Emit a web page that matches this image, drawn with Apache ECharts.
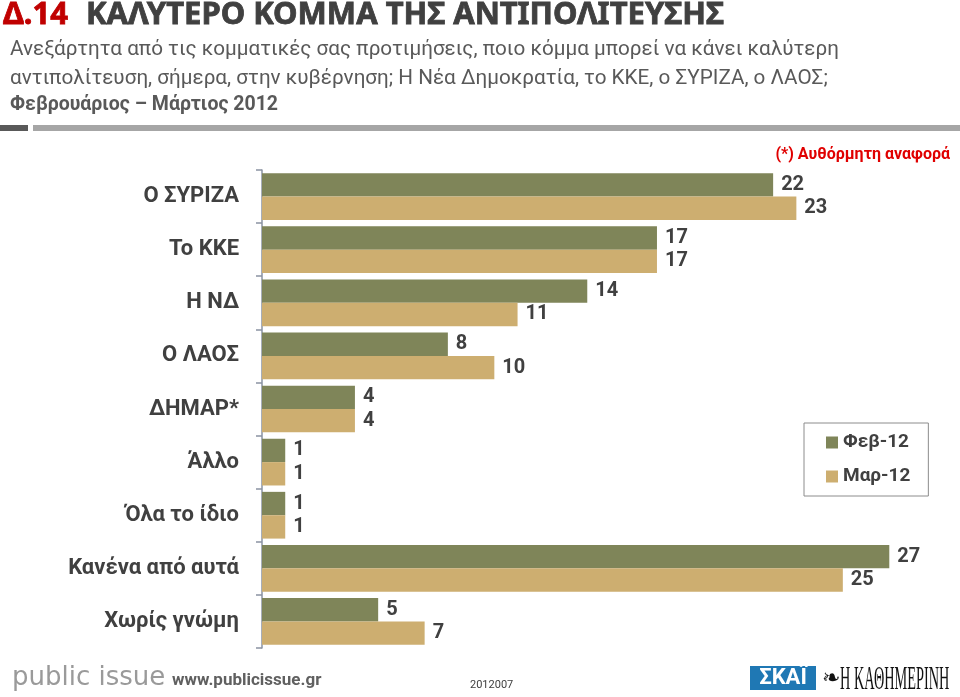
<!DOCTYPE html>
<html><head><meta charset="utf-8">
<script src="https://cdn.jsdelivr.net/npm/echarts@6/dist/echarts.min.js"></script>
<style>html,body{margin:0;padding:0;background:#fff}#c{width:960px;height:697px}</style>
</head><body><div id="c"></div>
<script>
const categories = ['Ο ΣΥΡΙΖΑ','Το ΚΚΕ','Η ΝΔ','Ο ΛΑΟΣ','ΔΗΜΑΡ*','Άλλο','Όλα το ίδιο','Κανένα από αυτά','Χωρίς γνώμη'];
const seriesNames = ['Φεβ-12','Μαρ-12'];
const feb = [22,17,14,8,4,1,1,27,5];
const mar = [23,17,11,10,4,1,1,25,7];

const FONT = 'Roboto';
const TFONT = '"Noto Sans"';
const labelStyle = {show:true, position:'right', distance:8, color:'#404040', fontSize:20, fontWeight:'bold', fontFamily:FONT};
const chart = echarts.init(document.getElementById('c'), null, {renderer:'canvas'});
chart.setOption({
  animation:false,
  backgroundColor:'#fff',
  color:['#7F8559','#CDAE70'],
  grid:{left:262, top:170, right:1, bottom:49},
  xAxis:{type:'value', min:0, max:30, show:false},
  yAxis:{type:'category', data:categories, inverse:true,
    axisLine:{show:true, lineStyle:{color:'#8a93a3', width:1.5}},
    axisTick:{show:true, length:6, lineStyle:{color:'#8a93a3', width:1.5}},
    axisLabel:{margin:23, color:'#404040', fontSize:22, fontWeight:'bold', fontFamily:FONT}},
  legend:{orient:'vertical', left:804, top:423, padding:[10,18,10,22], itemGap:15,
    itemWidth:12, itemHeight:12, borderColor:'#8c8c8c', borderWidth:1, icon:'rect',
    textStyle:{color:'#404040', fontSize:19, fontWeight:'bold', fontFamily:FONT}},
  series:[
    {name:seriesNames[0], type:'bar', data:feb, barGap:'0%', barCategoryGap:'12%', label:labelStyle},
    {name:seriesNames[1], type:'bar', data:mar, barGap:'0%', barCategoryGap:'12%', label:labelStyle}
  ],
  graphic:[
    {type:'text', x:3, y:15, style:{text:'Δ.14', fill:'#C00000', stroke:'#C00000', lineWidth:0.8, fontSize:31, fontWeight:'bold', fontFamily:TFONT, verticalAlign:'middle'}},
    {type:'text', x:86, y:15, style:{text:'ΚΑΛΥΤΕΡΟ ΚΟΜΜΑ ΤΗΣ ΑΝΤΙΠΟΛΙΤΕΥΣΗΣ', fill:'#404040', stroke:'#404040', lineWidth:0.8, fontSize:31, fontWeight:'bold', fontFamily:TFONT, verticalAlign:'middle'}},
    {type:'text', x:10, y:50, style:{text:'Ανεξάρτητα από τις κομματικές σας προτιμήσεις, ποιο κόμμα μπορεί να κάνει καλύτερη', fill:'#595959', font:'20.7px '+FONT, verticalAlign:'middle'}},
    {type:'text', x:10, y:79, style:{text:'αντιπολίτευση, σήμερα, στην κυβέρνηση; Η Νέα Δημοκρατία, το ΚΚΕ, ο ΣΥΡΙΖΑ, ο ΛΑΟΣ;', fill:'#595959', font:'20.7px '+FONT, verticalAlign:'middle'}},
    {type:'text', x:10, y:105, style:{text:'Φεβρουάριος – Μάρτιος 2012', fill:'#595959', font:'bold 19.5px '+FONT, verticalAlign:'middle'}},
    {type:'rect', shape:{x:0, y:125, width:28, height:6}, style:{fill:'#595959'}},
    {type:'rect', shape:{x:33, y:125, width:927, height:6}, style:{fill:'#a6a6a6'}},
    {type:'text', x:950, y:155, style:{text:'(*) Αυθόρμητη αναφορά', fill:'#E00000', font:'bold 16px '+FONT, align:'right', verticalAlign:'middle'}},
    {type:'text', x:12, y:678, style:{text:'public issue', fill:'#9a9a9a', font:'26px "DejaVu Sans"', verticalAlign:'middle'}},
    {type:'text', x:172, y:681, style:{text:'www.publicissue.gr', fill:'#606060', font:'bold 17px '+FONT, verticalAlign:'middle'}},
    {type:'text', x:470, y:685, style:{text:'2012007', fill:'#404040', font:'11px '+FONT, verticalAlign:'middle'}},
    {type:'rect', shape:{x:750, y:666, width:66, height:24}, style:{fill:'#1F78B4'}},
    {type:'text', x:783, y:678, style:{text:'ΣΚΑΪ', fill:'#fff', font:'bold 22px '+FONT, align:'center', verticalAlign:'middle'}},
    {type:'text', x:822, y:679, style:{text:'❧', fill:'#111', font:'22px "DejaVu Sans"', verticalAlign:'middle'}},
    {type:'text', x:840, y:680, scaleX:0.42, style:{text:'Η ΚΑΘΗΜΕΡΙΝΗ', fill:'#111', font:'34px "Liberation Serif"', verticalAlign:'middle'}}
  ]
});
</script></body></html>
